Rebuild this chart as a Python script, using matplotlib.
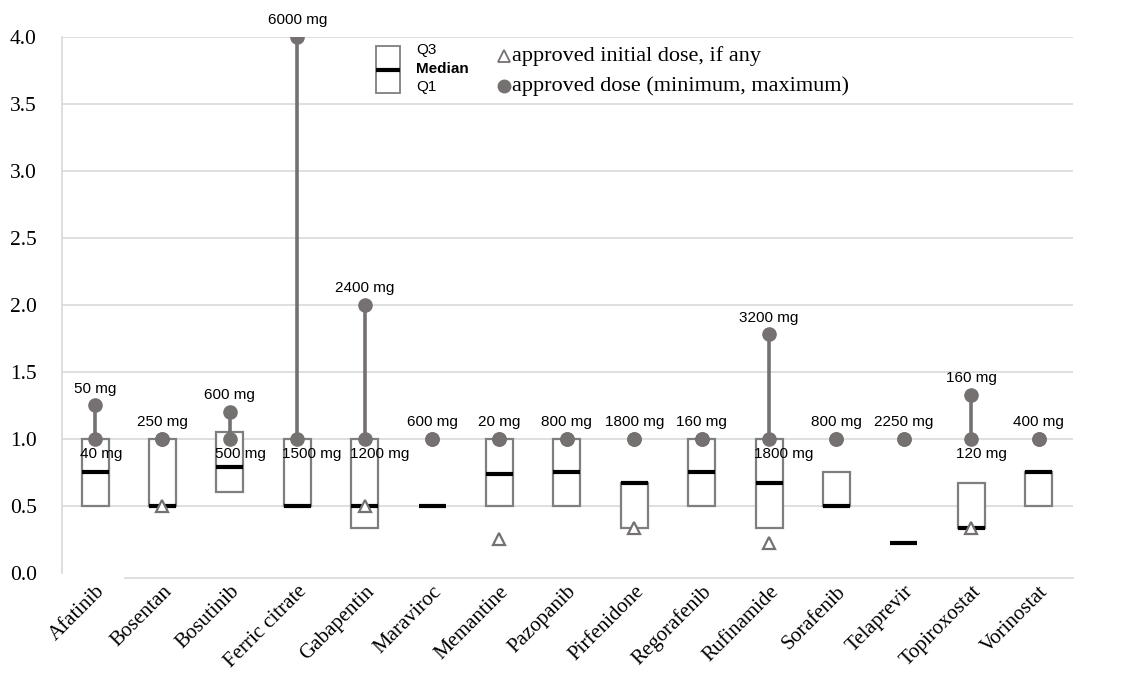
import numpy as np
import matplotlib
matplotlib.use("Agg")
import matplotlib.pyplot as plt
from matplotlib.patches import Rectangle

# données
drugs = ["Afatinib", "Bosentan", "Bosutinib", "Ferric citrate", "Gabapentin",
         "Maraviroc", "Memantine", "Pazopanib", "Pirfenidone", "Regorafenib",
         "Rufinamide", "Sorafenib", "Telaprevir", "Topiroxostat", "Vorinostat"]
q1 = [0.5, 0.5, 0.6, 0.5, 0.33, 0.5, 0.5, 0.5, 0.33, 0.5, 0.33, 0.5, 0.22, 0.33, 0.5]
median = [0.75, 0.5, 0.79, 0.5, 0.5, 0.5, 0.74, 0.75, 0.67, 0.75, 0.67, 0.5, 0.22, 0.33, 0.75]
q3 = [1.0, 1.0, 1.05, 1.0, 1.0, 0.5, 1.0, 1.0, 0.67, 1.0, 1.0, 0.75, 0.22, 0.67, 0.75]
dose_min = [1.0] * 15
dose_max = [1.25, 1.0, 1.2, 4.0, 2.0, 1.0, 1.0, 1.0, 1.0, 1.0, 1.78, 1.0, 1.0, 1.33, 1.0]
label_min = ["40 mg", "250 mg", "500 mg", "1500 mg", "1200 mg", "600 mg", "20 mg", "800 mg",
             "1800 mg", "160 mg", "1800 mg", "800 mg", "2250 mg", "120 mg", "400 mg"]
label_max = ["50 mg", None, "600 mg", "6000 mg", "2400 mg", None, None, None,
             None, None, "3200 mg", None, None, "160 mg", None]
initial = [np.nan, 0.5, np.nan, np.nan, 0.5, np.nan, 0.25, np.nan, 0.33, np.nan,
           0.22, np.nan, np.nan, 0.33, np.nan]

gris = "#767171"
boite = "#7f7f7f"
serif = "Liberation Serif"
sans = "Liberation Sans"

fig = plt.figure(figsize=(11.29, 6.75), dpi=100)
ax = fig.add_axes([62 / 1129, 1 - 578 / 675, 1011 / 1129, 541 / 675])

x = np.arange(len(drugs))
w = 0.4

# grille
for yv in np.arange(0.5, 4.01, 0.5):
    ax.axhline(yv, color="#d9d9d9", lw=1.2, zorder=0)

# boites
for i in range(len(drugs)):
    if q3[i] > q1[i]:
        ax.add_patch(Rectangle((x[i] - w / 2, q1[i]), w, q3[i] - q1[i], fill=True,
                               facecolor="white", edgecolor=boite, lw=1.6, zorder=2))
    ax.plot([x[i] - w / 2, x[i] + w / 2], [median[i], median[i]], color="black",
            lw=3, solid_capstyle="butt", zorder=3)

# doses approuvées
for i in range(len(drugs)):
    if dose_max[i] > dose_min[i]:
        ax.plot([x[i], x[i]], [dose_min[i], dose_max[i]], color=gris, lw=2.6, zorder=4)
ax.plot(x, dose_min, "o", color=gris, ms=9.5, zorder=5)
ax.plot(x, dose_max, "o", color=gris, ms=9.5, zorder=5)
ax.plot(x, initial, "^", mfc="white", mec=gris, mew=1.6, ms=9, zorder=6, ls="none")

# étiquettes
for i in range(len(drugs)):
    if label_max[i] is None:
        ax.annotate(label_min[i], (x[i], dose_min[i]), xytext=(0, 12), textcoords="offset points",
                    ha="center", va="center", fontsize=11, family=sans, color="black")
    else:
        ax.annotate(label_max[i], (x[i], dose_max[i]), xytext=(0, 12), textcoords="offset points",
                    ha="center", va="center", fontsize=11, family=sans, color="black")
        ax.annotate(label_min[i], (x[i] - 0.22, dose_min[i]), xytext=(0, -11), textcoords="offset points",
                    ha="left", va="center", fontsize=11, family=sans, color="black", zorder=7)

ax.set_xlim(-0.49, 14.51)
ax.set_ylim(-0.04, 4.0)
ax.set_yticks(np.arange(0, 4.01, 0.5))
ax.set_yticklabels(["%.1f" % v for v in np.arange(0, 4.01, 0.5)], family=serif, fontsize=15.5)
ax.set_xticks(x)
ax.set_xticklabels(drugs, rotation=45, ha="right", rotation_mode="anchor", family=serif, fontsize=15)
ax.tick_params(axis="both", length=0)
ax.tick_params(axis="y", pad=18)
ax.tick_params(axis="x", pad=3)

for s in ["top", "right", "bottom"]:
    ax.spines[s].set_visible(False)
ax.spines["left"].set_color("#d9d9d9")
ax.spines["left"].set_linewidth(1.2)
ax.spines["left"].set_bounds(0, 4.0)
ax.plot([0.062, 1], [0, 0], transform=ax.transAxes, color="#d9d9d9", lw=1.2, clip_on=False)

# légende faite à la main
ta = ax.transAxes
ax.add_patch(Rectangle((0.3106, 0.8965), 0.0237, 0.0869, transform=ta, facecolor="white",
                       edgecolor=boite, lw=1.3, zorder=8))
ax.plot([0.3106, 0.3343], [0.939, 0.939], transform=ta, color="black", lw=3,
        solid_capstyle="butt", zorder=9)
ax.text(0.350, 0.976, "Q3", transform=ta, fontsize=11, family=sans, va="center")
ax.text(0.350, 0.941, "Median", transform=ta, fontsize=11, family=sans, va="center", weight="bold")
ax.text(0.350, 0.9076, "Q1", transform=ta, fontsize=11, family=sans, va="center")
ax.plot([0.437], [0.965], "^", transform=ta, mfc="white", mec=gris, mew=1.3, ms=8)
ax.text(0.445, 0.965, "approved initial dose, if any", transform=ta, fontsize=16,
        family=serif, va="center")
ax.plot([0.437], [0.909], "o", transform=ta, color=gris, ms=9)
ax.text(0.445, 0.909, "approved dose (minimum, maximum)", transform=ta, fontsize=16,
        family=serif, va="center")

fig.savefig("out.png", dpi=100)
